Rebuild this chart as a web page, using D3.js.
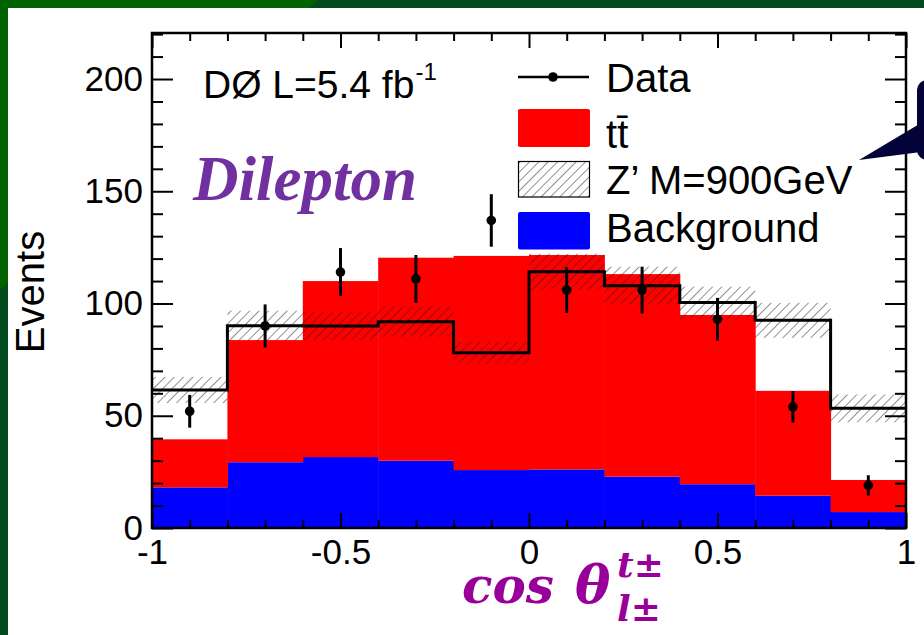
<!DOCTYPE html>
<html>
<head>
<meta charset="utf-8">
<script src="https://cdn.jsdelivr.net/npm/d3@7"></script>
<style>
  html, body { margin: 0; padding: 0; background: #fff; }
  svg { display: block; }
</style>
</head>
<body>
<script>
// ---- histogram content: cos(theta) of lepton in top rest frame, dilepton channel ----
const binEdges   = [-1, -0.8, -0.6, -0.4, -0.2, 0, 0.2, 0.4, 0.6, 0.8, 1];
const background = [18.1, 29.3, 31.6, 30.0, 25.8, 26.1, 22.9, 19.5, 14.4, 7.1];
const ttbar      = [21.4, 54.4, 78.4, 90.4, 95.4, 95.5, 90.2, 75.4, 46.7, 14.3];
const zprime     = [61.5, 90.1, 90.0, 91.9, 78.1, 114.2, 107.9, 100.4, 92.5, 53.3];
const zprimeErr  = [5.8, 6.7, 6.3, 6.8, 4.7, 8.0, 8.5, 7.1, 7.8, 6.2];
const dataCounts = [52, 90, 114, 111, 137, 106, 106, 93, 54, 19];
const dataErr    = [7.3, 9.6, 10.7, 10.6, 11.7, 10.2, 10.4, 9.5, 7.0, 4.5];

const xTicks      = [-1, -0.5, 0, 0.5, 1];
const xTickLabels = ["-1", "-0.5", "0", "0.5", "1"];
const yTicks      = [0, 50, 100, 150, 200];
const yTickLabels = ["0", "50", "100", "150", "200"];
const legendLabels = ["Data", "t", "Z\u2019 M=900GeV", "Background"];

const W = 924, H = 635;
const svg = d3.select("body").append("svg").attr("width", W).attr("height", H);

// ---- slide frame ----
const defs = svg.append("defs");
svg.append("rect").attr("width", W).attr("height", H).attr("fill", "#014b1f");
svg.append("path").attr("d", "M0,0 L318,0 L0,290 Z").attr("fill", "#006300");
svg.append("rect").attr("x", 8).attr("y", 8).attr("width", W - 8).attr("height", H - 8).attr("fill", "#fff");

// hatch pattern
const hatch = defs.append("pattern")
  .attr("id", "hatch").attr("patternUnits", "userSpaceOnUse")
  .attr("width", 6.6).attr("height", 6.6)
  .attr("patternTransform", "rotate(45)");
hatch.append("line").attr("x1", 0).attr("y1", 0).attr("x2", 0).attr("y2", 6.6)
  .attr("stroke", "#222").attr("stroke-width", 1);

// ---- scales ----
const x = d3.scaleLinear().domain([-1, 1]).range([152, 906]);
const y = d3.scaleLinear().domain([0, 220.5]).range([528, 33]);

const bins = background.map((b, i) => ({
  x0: binEdges[i], x1: binEdges[i + 1],
  bkg: b, tt: ttbar[i], z: zprime[i], zErr: zprimeErr[i],
  data: dataCounts[i], dErr: dataErr[i]
}));

// ---- stacked expectation ----
const stack = d3.stack().keys(["bkg", "tt"])(bins);
const fills = { bkg: "#0000ff", tt: "#ff0000" };
const plot = svg.append("g");
stack.forEach(layer => {
  plot.append("g").selectAll("rect").data(layer).join("rect")
    .attr("x", d => x(d.data.x0))
    .attr("width", d => x(d.data.x1) - x(d.data.x0) + 0.5)
    .attr("y", d => y(d[1]))
    .attr("height", d => y(d[0]) - y(d[1]))
    .attr("fill", fills[layer.key]);
});

// Z' uncertainty band
plot.append("g").selectAll("rect").data(bins).join("rect")
  .attr("x", d => x(d.x0))
  .attr("width", d => x(d.x1) - x(d.x0))
  .attr("y", d => y(d.z + d.zErr))
  .attr("height", d => y(d.z - d.zErr) - y(d.z + d.zErr))
  .attr("fill", "url(#hatch)");

// Z' histogram outline
const stepPts = bins.map(d => [d.x0, d.z]).concat([[1, zprime[zprime.length - 1]]]);
plot.append("path")
  .attr("d", d3.line().x(d => x(d[0])).y(d => y(d[1])).curve(d3.curveStepAfter)(stepPts))
  .attr("fill", "none").attr("stroke", "#000").attr("stroke-width", 3);

// data points with statistical errors
const pts = plot.append("g").selectAll("g").data(bins).join("g");
pts.append("line")
  .attr("x1", d => x((d.x0 + d.x1) / 2)).attr("x2", d => x((d.x0 + d.x1) / 2))
  .attr("y1", d => y(d.data - d.dErr)).attr("y2", d => y(d.data + d.dErr))
  .attr("stroke", "#000").attr("stroke-width", 3);
pts.append("circle")
  .attr("cx", d => x((d.x0 + d.x1) / 2)).attr("cy", d => y(d.data))
  .attr("r", 4.8).attr("fill", "#000");

// ---- axes ----
const fontAxis = "'Liberation Sans', Arial, sans-serif";
const minorX = d3.range(-10, 11).map(i => i / 10).filter(v => Math.abs(v * 2 - Math.round(v * 2)) > 1e-6);
const minorY = d3.range(0, 221, 10).filter(v => v % 50 !== 0);

function styleAxis(g) {
  g.select(".domain").remove();
  g.selectAll(".tick line").attr("stroke", "#000").attr("stroke-width", 2);
  g.selectAll("text").attr("font-family", fontAxis).attr("font-size", 35).attr("fill", "#000");
}

svg.append("g").attr("transform", "translate(0,528)")
  .call(d3.axisBottom(x).tickValues(xTicks).tickSize(-15).tickPadding(11)
    .tickFormat((d, i) => xTickLabels[i]))
  .call(styleAxis);
svg.append("g").attr("transform", "translate(0,528)")
  .call(d3.axisBottom(x).tickValues(minorX).tickSize(-8).tickFormat(""))
  .call(styleAxis);
svg.append("g").attr("transform", "translate(0,33)")
  .call(d3.axisTop(x).tickValues(xTicks).tickSize(-15).tickFormat(""))
  .call(styleAxis);
svg.append("g").attr("transform", "translate(0,33)")
  .call(d3.axisTop(x).tickValues(minorX).tickSize(-8).tickFormat(""))
  .call(styleAxis);

svg.append("g").attr("transform", "translate(152,0)")
  .call(d3.axisLeft(y).tickValues(yTicks).tickSize(-21).tickPadding(9)
    .tickFormat((d, i) => yTickLabels[i]))
  .call(styleAxis);
svg.append("g").attr("transform", "translate(152,0)")
  .call(d3.axisLeft(y).tickValues(minorY).tickSize(-11).tickFormat(""))
  .call(styleAxis);
svg.append("g").attr("transform", "translate(906,0)")
  .call(d3.axisRight(y).tickValues(yTicks).tickSize(-21).tickFormat(""))
  .call(styleAxis);
svg.append("g").attr("transform", "translate(906,0)")
  .call(d3.axisRight(y).tickValues(minorY).tickSize(-11).tickFormat(""))
  .call(styleAxis);

// frame
svg.append("rect").attr("x", 152).attr("y", 33).attr("width", 754).attr("height", 495)
  .attr("fill", "none").attr("stroke", "#000").attr("stroke-width", 2.5);

// axis titles
svg.append("text")
  .attr("transform", "translate(44,292) rotate(-90)")
  .attr("text-anchor", "middle")
  .attr("font-family", fontAxis).attr("font-size", 40).attr("fill", "#000")
  .text("Events");

const titleFont = { family: "'DejaVu Serif', serif", color: "#990099" };
function titlePart(tx, ty, size, str) {
  svg.append("text").attr("x", tx).attr("y", ty)
    .attr("font-family", titleFont.family).attr("font-weight", "bold")
    .attr("font-style", "italic").attr("fill", titleFont.color)
    .attr("font-size", size).text(str);
}
titlePart(462, 603, 50, "cos");
titlePart(575, 603, 53, "\u03b8");
titlePart(617, 577, 36, "t\u00b1");
titlePart(617, 621, 36, "l\u00b1");

// ---- annotations ----
const lumi = svg.append("text").attr("font-family", fontAxis).attr("fill", "#000");
lumi.append("tspan").attr("x", 203).attr("y", 98).attr("font-size", 39).text("D\u00d8 L=5.4 fb");
lumi.append("tspan").attr("dx", 1).attr("y", 80).attr("font-size", 24).text("-1");

svg.append("text")
  .attr("x", 193).attr("y", 200)
  .attr("font-family", "'Liberation Serif', 'Times New Roman', serif")
  .attr("font-weight", "bold").attr("font-style", "italic")
  .attr("font-size", 63).attr("fill", "#7030a0")
  .text("Dilepton");

// ---- legend ----
const leg = svg.append("g").attr("font-family", fontAxis).attr("font-size", 40).attr("fill", "#000");
leg.append("line").attr("x1", 518).attr("x2", 589).attr("y1", 77).attr("y2", 77)
  .attr("stroke", "#000").attr("stroke-width", 2.5);
leg.append("circle").attr("cx", 553).attr("cy", 77).attr("r", 4.8).attr("fill", "#000");
leg.append("rect").attr("x", 518).attr("y", 109).attr("width", 72).attr("height", 38)
  .attr("rx", 2).attr("fill", fills.tt);
leg.append("rect").attr("x", 518.5).attr("y", 161.5).attr("width", 71).attr("height", 35.5)
  .attr("fill", "url(#hatch)").attr("stroke", "#000").attr("stroke-width", 1.2);
leg.append("rect").attr("x", 518).attr("y", 212).attr("width", 72).attr("height", 37.5)
  .attr("rx", 2).attr("fill", fills.bkg);

leg.append("text").attr("x", 606).attr("y", 92).text(legendLabels[0]);
const ttText = leg.append("text").attr("x", 606).attr("y", 148);
ttText.append("tspan").text(legendLabels[1]);
ttText.append("tspan").text("t\u0304");
leg.append("text").attr("x", 606).attr("y", 194).text(legendLabels[2]);
leg.append("text").attr("x", 606).attr("y", 242).text(legendLabels[3]);

// ---- callout pointing at the Z' entry ----
svg.append("path")
  .attr("d", "M859,160 L921,123 L921,152 Z")
  .attr("fill", "#03033a");
svg.append("rect").attr("x", 917).attr("y", 80).attr("width", 30).attr("height", 80)
  .attr("rx", 10).attr("fill", "#03033a");
</script>
</body>
</html>
